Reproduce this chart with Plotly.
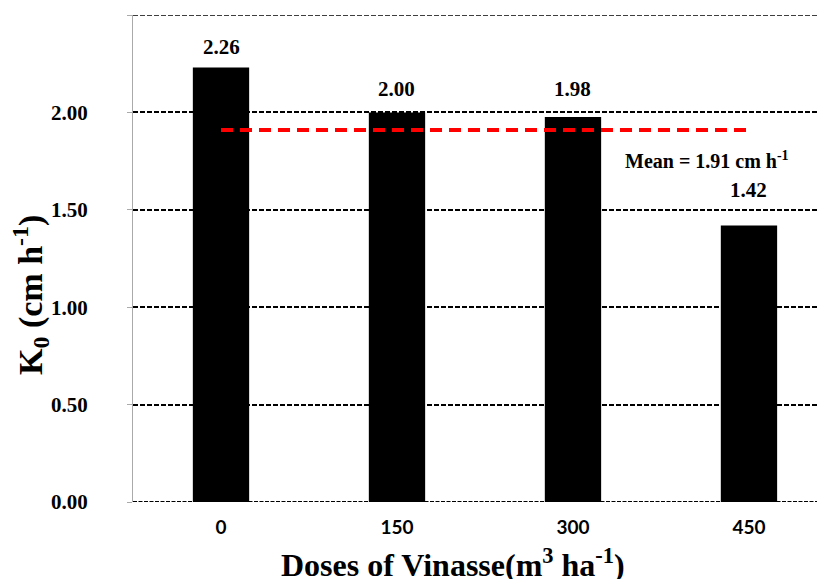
import plotly.graph_objects as go

doses = ["0", "150", "300", "450"]
k0_values = [2.23, 2.00, 1.976, 1.42]
k0_labels = ["2.26", "2.00", "1.98", "1.42"]
mean_value = 1.91
mean_label = "Mean = 1.91 cm h<sup>-1</sup>"
y_ticks = [0, 0.5, 1.0, 1.5, 2.0, 2.5]
y_ticktext = ["0.00", "0.50", "1.00", "1.50", "2.00", "2.50"]

label_shift = [21, 23, 28, 35]

xs = list(range(len(doses)))
SERIF = "Liberation Serif"
GRID_DASH = "5px,2px"

fig = go.Figure()
fig.add_trace(go.Bar(
    x=xs, y=k0_values, width=0.32,
    marker=dict(color="black", line=dict(width=0)),
    showlegend=False, hoverinfo="skip",
))
fig.add_trace(go.Scatter(
    x=[xs[0], xs[-1]], y=[mean_value, mean_value], mode="lines",
    line=dict(color="#FF0000", width=4, dash="12px,7px"),
    showlegend=False, hoverinfo="skip",
))

# gridlines at the range ends (plotly omits these)
shapes = [
    dict(type="line", xref="paper", yref="y", x0=0, x1=1,
         y0=y_ticks[0], y1=y_ticks[0],
         line=dict(color="black", width=2, dash="4px,1.5px"), layer="above"),
    dict(type="line", xref="paper", yref="y", x0=0, x1=1,
         y0=y_ticks[-1], y1=y_ticks[-1],
         line=dict(color="black", width=1.5, dash=GRID_DASH), layer="below"),
]

annotations = []
for x, v, t, s in zip(xs, k0_values, k0_labels, label_shift):
    annotations.append(dict(
        x=x, y=v, text="<b>%s</b>" % t, showarrow=False,
        xanchor="center", yanchor="middle", yshift=s,
        font=dict(family=SERIF, size=21, color="black"),
    ))
annotations.append(dict(
    x=xs[-1], y=mean_value, text="<b>%s</b>" % mean_label, showarrow=False,
    xanchor="center", yanchor="middle", xshift=-42, yshift=-30,
    font=dict(family=SERIF, size=20, color="black"),
))
annotations.append(dict(
    xref="paper", yref="paper", x=-0.149, y=0.425,
    text="<b>K<sub>0</sub> (cm h<sup>-1</sup>)</b>", textangle=-90,
    showarrow=False, xanchor="center", yanchor="middle",
    font=dict(family=SERIF, size=34, color="black"),
))
annotations.append(dict(
    xref="paper", yref="paper", x=0.462, y=-0.125,
    text="<b>Doses of Vinasse(m<sup>3</sup> ha<sup>-1</sup>)</b>",
    showarrow=False, xanchor="center", yanchor="middle",
    font=dict(family=SERIF, size=32, color="black"),
))

fig.update_layout(
    width=825, height=579,
    margin=dict(l=125, r=8, t=7, b=85),
    paper_bgcolor="white", plot_bgcolor="white",
    annotations=annotations, shapes=shapes,
    xaxis=dict(
        range=[-0.5, 3.432], tickmode="array", tickvals=xs, ticktext=doses,
        showgrid=False, zeroline=False, showline=False, ticks="",
        tickfont=dict(family="Lato", size=19, color="black", weight="bold"),
        ticklabelstandoff=12,
    ),
    yaxis=dict(
        range=[0, 2.5], tickmode="array", tickvals=y_ticks, ticktext=y_ticktext,
        showgrid=True, gridcolor="black", gridwidth=1.5, griddash=GRID_DASH,
        zeroline=False, showline=True, linecolor="#AAAAAA", linewidth=1,
        ticks="outside", ticklen=5, tickcolor="#AAAAAA",
        tickfont=dict(family=SERIF, size=21, color="black", weight="bold"),
        ticklabelstandoff=35,
    ),
)

fig.write_html("out.html")
